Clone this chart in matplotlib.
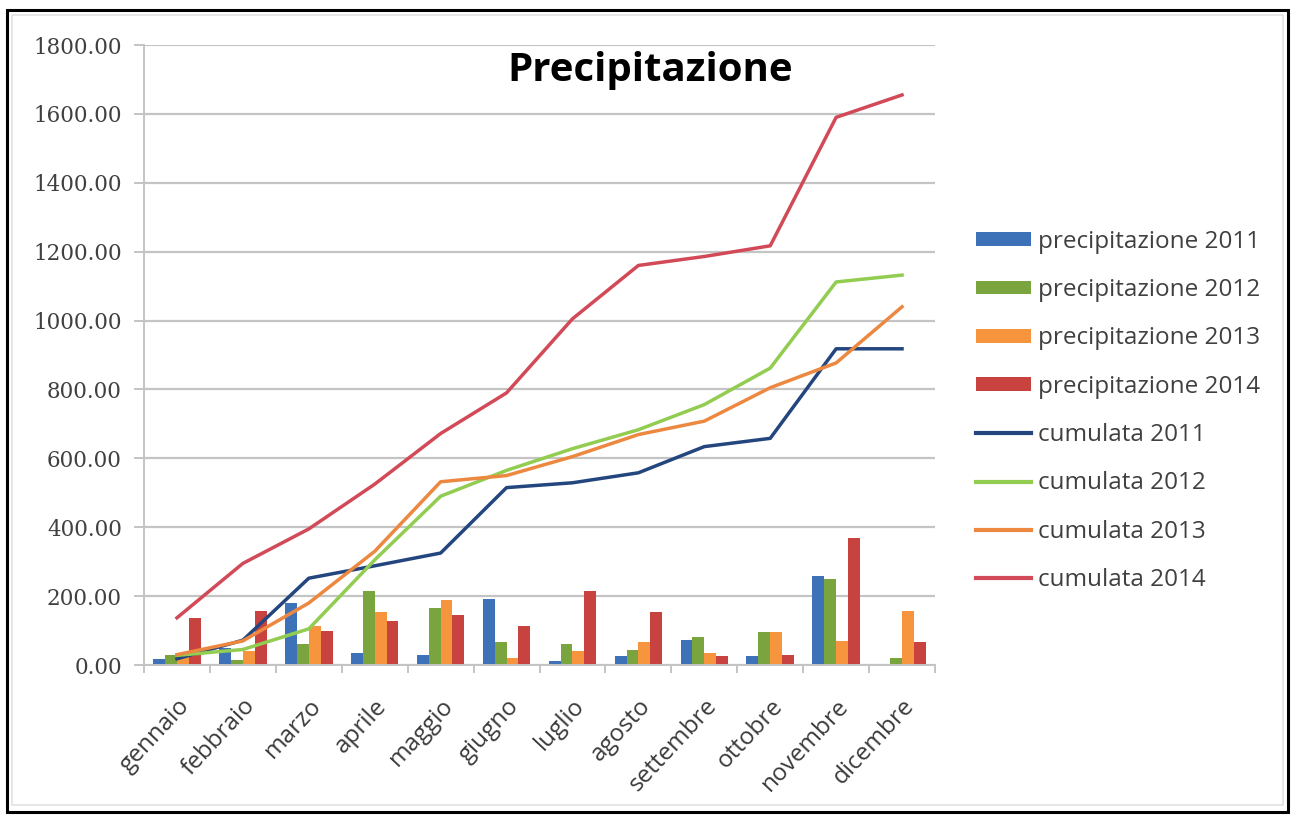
import matplotlib
matplotlib.use("Agg")
import matplotlib.pyplot as plt
import numpy as np
from matplotlib.patches import Rectangle, Patch
from matplotlib.lines import Line2D
from matplotlib.ticker import FixedLocator, FormatStrFormatter

months = ['gennaio', 'febbraio', 'marzo', 'aprile', 'maggio', 'giugno',
          'luglio', 'agosto', 'settembre', 'ottobre', 'novembre', 'dicembre']

p2011 = [18, 50, 180, 34, 30, 192, 12, 25, 72, 25, 259, 0]
p2012 = [28, 15, 62, 215, 166, 68, 62, 45, 82, 95, 250, 20]
p2013 = [30, 42, 113, 155, 190, 20, 40, 67, 35, 95, 70, 157]
p2014 = [137, 157, 99, 128, 145, 113, 215, 155, 26, 29, 368, 67]

c2011 = [18, 72, 252, 288, 325, 515, 529, 558, 634, 658, 918, 918]
c2012 = [28, 45, 105, 305, 490, 565, 628, 683, 756, 862, 1112, 1132]
c2013 = [30, 70, 180, 330, 532, 550, 605, 669, 708, 805, 877, 1040]
c2014 = [137, 295, 395, 525, 672, 790, 1005, 1160, 1186, 1217, 1590, 1655]

bar_series = [p2011, p2012, p2013, p2014]
bar_labels = ['precipitazione 2011', 'precipitazione 2012',
              'precipitazione 2013', 'precipitazione 2014']
bar_colors = ['#3D72B8', '#7AA43E', '#F7953F', '#C8423F']

line_series = [c2011, c2012, c2013, c2014]
line_labels = ['cumulata 2011', 'cumulata 2012', 'cumulata 2013', 'cumulata 2014']
line_colors = ['#24467F', '#92CC50', '#EC8840', '#D24A58']

W, H = 1295, 819
fig = plt.figure(figsize=(W / 100, H / 100), dpi=100)
fig.patch.set_facecolor('white')

# outer frames
fig.add_artist(Rectangle((7 / W, 1 - 812 / H), (1288 - 7) / W, (812 - 10) / H,
                         transform=fig.transFigure, fill=False,
                         edgecolor='black', lw=2.2))
fig.add_artist(Rectangle((12 / W, 1 - 805 / H), (1283 - 12) / W, (805 - 15) / H,
                         transform=fig.transFigure, fill=False,
                         edgecolor='#E2E2E2', lw=1.2))

ax = fig.add_axes([144 / W, 1 - 665 / H, (935 - 144) / W, (665 - 45) / H])

x = np.arange(len(months))
bw = 0.18
for i, (vals, lab, col) in enumerate(zip(bar_series, bar_labels, bar_colors)):
    ax.bar(x + (i - 1.5) * bw, vals, width=bw, color=col, label=lab, zorder=2)

for vals, lab, col in zip(line_series, line_labels, line_colors):
    ax.plot(x, vals, color=col, lw=2.5, label=lab, zorder=3,
            solid_joinstyle='round')

ax.set_xlim(-0.5, len(months) - 0.5)
ax.set_ylim(0, 1800)
ax.set_yticks(np.arange(0, 1801, 200))
ax.yaxis.set_major_formatter(FormatStrFormatter('%.2f'))
ax.grid(axis='y', color='#C4C4C4', lw=1.6, zorder=0)
ax.set_axisbelow(True)

for s in ['top', 'right']:
    ax.spines[s].set_visible(False)
ax.spines['left'].set_color('#C4C4C4')
ax.spines['bottom'].set_color('#C4C4C4')
ax.spines['left'].set_linewidth(1.4)
ax.spines['bottom'].set_linewidth(1.4)

ax.tick_params(axis='y', length=7, color='#C4C4C4', width=1.4, pad=9,
               labelsize=15.5, labelcolor='#404040')
for t in ax.get_yticklabels():
    t.set_family('DejaVu Serif')

ax.set_xticks(x)
ax.set_xticklabels(months, rotation=47, ha='right', rotation_mode='anchor',
                   fontsize=17.5, family='Open Sans', color='#3A3A3A')
ax.tick_params(axis='x', which='major', length=0, pad=21)
ax.xaxis.set_minor_locator(FixedLocator(np.arange(-0.5, len(months), 1.0)))
ax.tick_params(axis='x', which='minor', length=6, color='#C4C4C4', width=1.4)

fig.text(650 / W, 1 - 70 / H, 'Precipitazione', ha='center', va='center',
         fontsize=29, fontweight='bold', family='Open Sans', color='black')

handles = [Patch(facecolor=c, edgecolor='none') for c in bar_colors] + \
          [Line2D([0], [0], color=c, lw=3) for c in line_colors]
labels = bar_labels + line_labels
leg = fig.legend(handles, labels, loc='upper left',
                 bbox_to_anchor=(954 / W, 1 - 208 / H),
                 frameon=False, handlelength=2.25, handleheight=0.5,
                 handletextpad=0.3, labelspacing=1.0,
                 prop={'family': 'Open Sans', 'size': 17.5})
for t in leg.get_texts():
    t.set_color('#404040')

fig.savefig('out.png', dpi=100)
